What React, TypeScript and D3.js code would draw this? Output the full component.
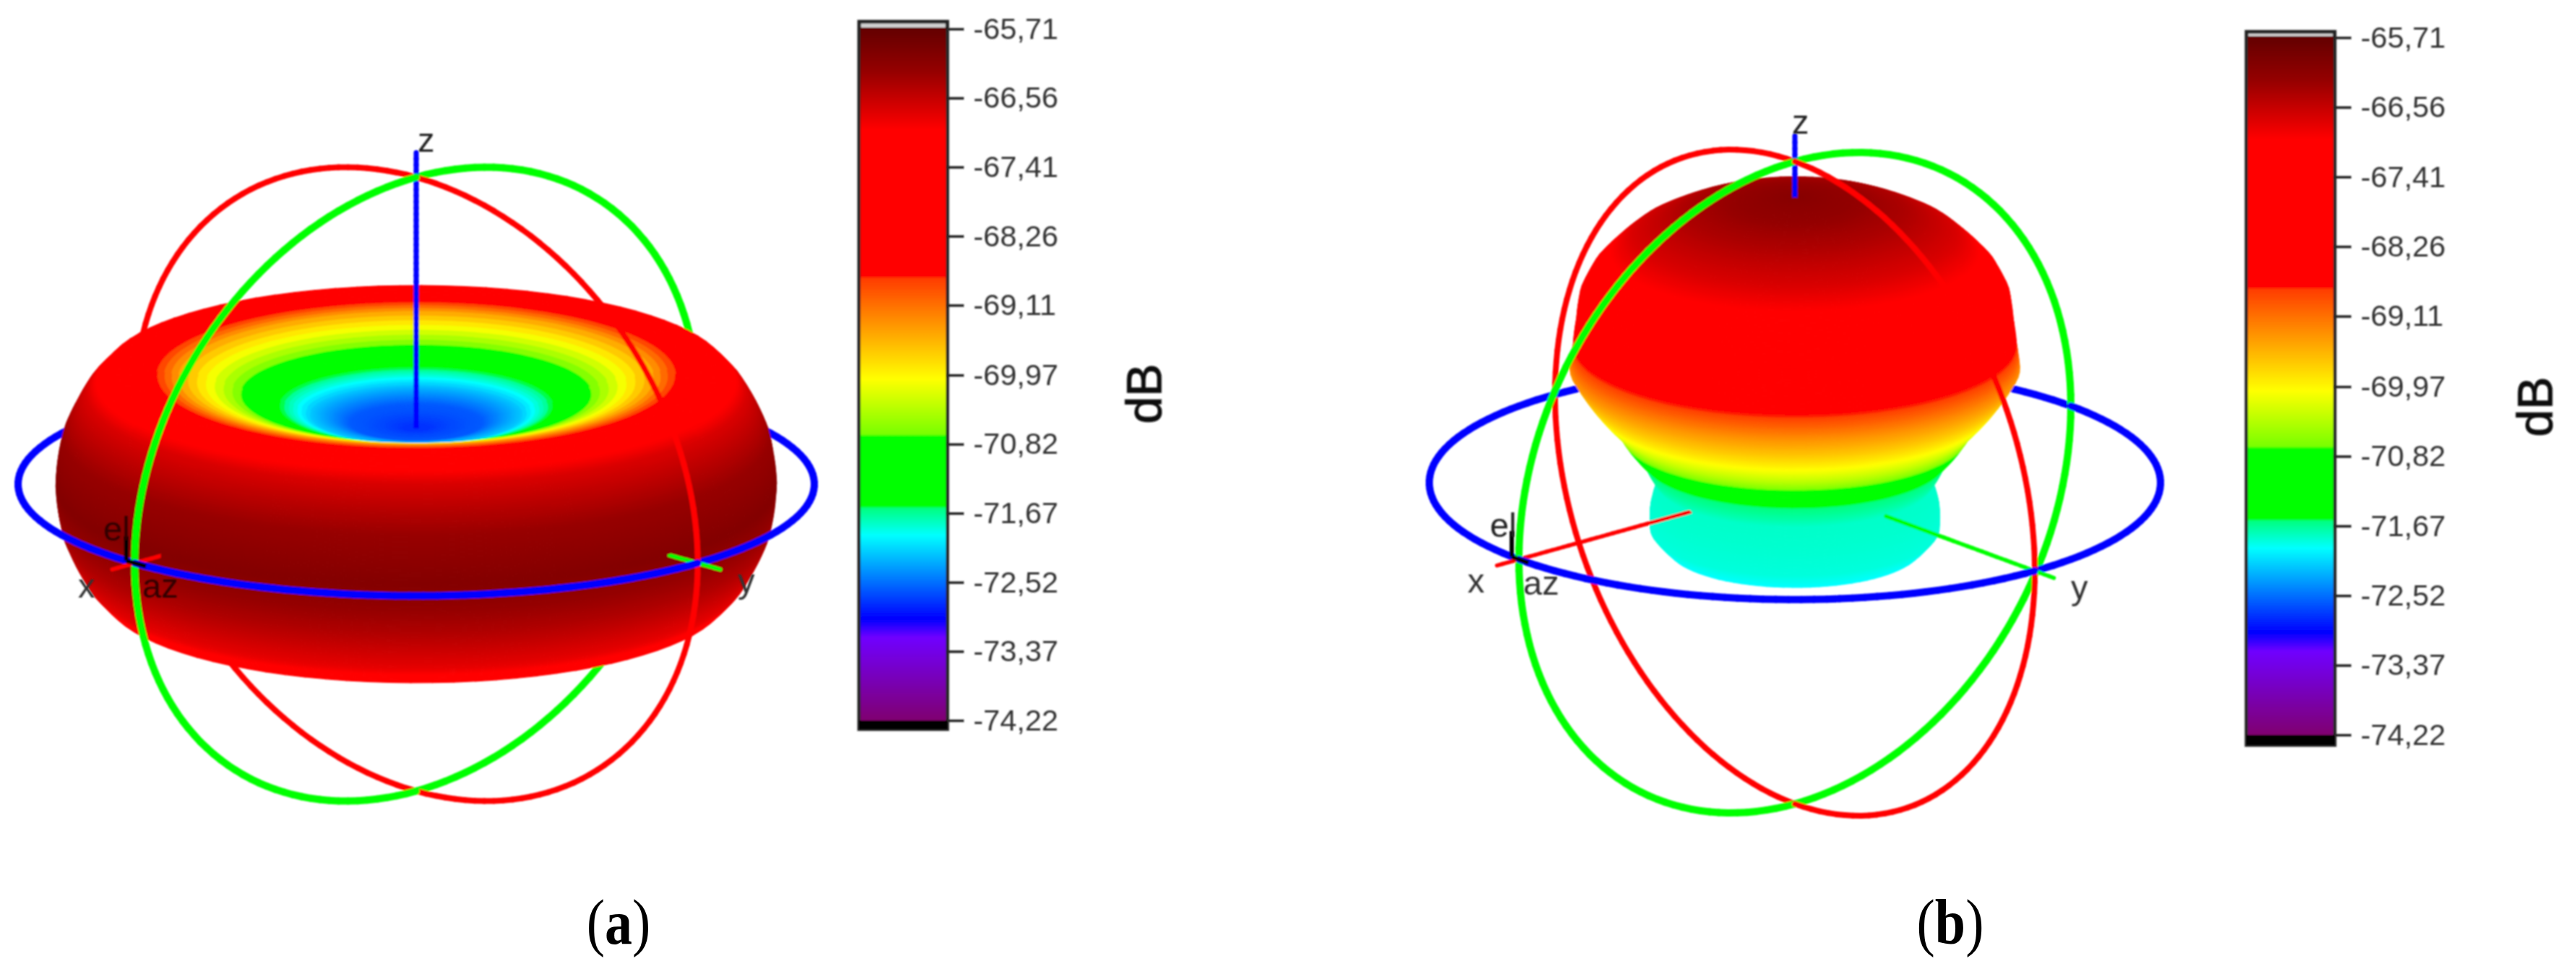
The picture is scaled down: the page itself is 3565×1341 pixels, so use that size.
import * as d3 from 'd3'
import { useRef, useEffect } from 'react'

const WIDTH = 3565
const HEIGHT = 1341
const SANS = '"Liberation Sans", Arial, sans-serif'
const SERIF = '"Liberation Serif", "Times New Roman", serif'

// colour bar: dB at the top / bottom and the printed labels
const tickValues = [-65.71, -66.56, -67.41, -68.26, -69.11, -69.97, -70.82, -71.67, -72.52, -73.37, -74.22]
const tickLabels = ['-65,71', '-66,56', '-67,41', '-68,26', '-69,11', '-69,97', '-70,82', '-71,67', '-72,52', '-73,37', '-74,22']

// colour map stops
const stopDb = [-65.71, -66.24, -66.95, -68.75, -68.78, -70.02, -70.7, -70.73, -71.58, -71.61, -71.94, -72.97, -73.2, -74.22]
const stopColor = ['#640000', '#960000', '#ff0000', '#ff0000', '#ff3c00', '#ffff00', '#78ff00', '#00ff00', '#00ff00', '#00ff80', '#00ffff', '#0000ff', '#7000ff', '#800070']

// pattern (a): polar angle from +z, radius relative to the reference sphere, level in dB
const thetaA = [0, 10, 20, 30, 40, 50, 55, 60, 65, 70, 80, 90, 100, 110, 115, 120, 125, 130, 140, 160, 180]
const radiusA = [0.18, 0.185, 0.2, 0.22, 0.26, 0.35, 0.46, 0.69, 0.86, 0.88, 0.9, 0.905, 0.9, 0.88, 0.86, 0.69, 0.46, 0.35, 0.26, 0.2, 0.18]
const levelA = [-72.75, -72.75, -72.7, -72.65, -72.6, -72.15, -71.3, -69.4, -67.2, -66.7, -66.25, -66.05, -66.4, -66.8, -67.2, -69.4, -71.3, -72.15, -72.6, -72.7, -72.75]

// pattern (b)
const thetaB = [0, 10, 20, 30, 40, 45, 50, 55, 60, 70, 80, 90, 100, 110, 120, 130, 150, 180]
const radiusB = [0.886, 0.885, 0.895, 0.89, 0.86, 0.83, 0.78, 0.74, 0.71, 0.52, 0.42, 0.375, 0.4, 0.42, 0.4, 0.33, 0.25, 0.22]
const levelB = [-66.1, -66.2, -66.4, -66.7, -67.2, -67.7, -68.1, -68.8, -69.35, -70.4, -71.6, -71.8, -71.82, -71.85, -71.95, -72, -72, -72]

const panels = [
  {
    id: 'a', theta: thetaA, radius: radiusA, level: levelA, az: 45,
    cx: 576, cy: 670, rx: 551, ry: 452,
    bar: { left: 1189, right: 1311, top: 30, bottom: 1009, first: 40, last: 997 },
    labels: [
      { text: 'z', x: 578, y: 210, color: '#222' },
      { text: 'x', x: 108, y: 827, color: '#333' },
      { text: 'y', x: 1021, y: 820, color: '#333' },
      { text: 'el', x: 143, y: 748, color: '#300000' },
      { text: 'az', x: 197, y: 827, color: '#300000' },
    ],
    dB: { x: 1607, y: 545 },
    caption: { x: 856, y: 1306 },
  },
  {
    id: 'b', theta: thetaB, radius: radiusB, level: levelB, az: 49,
    cx: 2484, cy: 668, rx: 506, ry: 473,
    bar: { left: 3109, right: 3231, top: 44, bottom: 1031, first: 52, last: 1017 },
    labels: [
      { text: 'z', x: 2480, y: 185, color: '#222' },
      { text: 'x', x: 2031, y: 820, color: '#333' },
      { text: 'y', x: 2866, y: 829, color: '#333' },
      { text: 'el', x: 2062, y: 743, color: '#222' },
      { text: 'az', x: 2108, y: 823, color: '#333' },
    ],
    dB: { x: 3532, y: 563 },
    caption: { x: 2699, y: 1306 },
  },
]

const ELEVATION = (20 * Math.PI) / 180
const THETA_STEP = 0.5
const AZ_STEP = 4

const drawPanel = (svg, panel) => {
  const { theta, radius, level, cx, cy, rx, ry, bar } = panel
  const az = (panel.az * Math.PI) / 180
  const xScale = d3.scaleLinear().domain([-1, 1]).range([cx - rx, cx + rx])
  const yScale = d3.scaleLinear().domain([-1, 1]).range([cy - ry, cy + ry])
  const radiusAt = d3.scaleLinear().domain(theta).range(radius)
  const levelAt = d3.scaleLinear().domain(theta).range(level)
  const colorOf = d3.scaleLinear().domain(stopDb).range(stopColor).clamp(true)

  // orthographic view; gives screen position and depth (bigger is nearer)
  const project = ([x, y, z]) => {
    const along = x * Math.cos(az) + y * Math.sin(az)
    return {
      sx: xScale(-x * Math.sin(az) + y * Math.cos(az)),
      sy: yScale(along * Math.sin(ELEVATION) - z * Math.cos(ELEVATION)),
      depth: along * Math.cos(ELEVATION) + z * Math.sin(ELEVATION),
    }
  }
  const surface = (t, a) => {
    const r = radiusAt(t)
    const th = (t * Math.PI) / 180
    const al = (a * Math.PI) / 180
    return project([r * Math.sin(th) * Math.cos(al), r * Math.sin(th) * Math.sin(al), r * Math.cos(th)])
  }

  const items = []

  // surface facets, back faces dropped
  const thetaSteps = d3.range(0, 180, THETA_STEP)
  const azSteps = d3.range(0, 360, AZ_STEP)
  thetaSteps.forEach(t => {
    azSteps.forEach(a => {
      const p = [
        surface(t, a),
        surface(t + THETA_STEP, a),
        surface(t + THETA_STEP, a + AZ_STEP),
        surface(t, a + AZ_STEP),
      ]
      const area = d3.polygonArea(p.map(q => [q.sx, q.sy]))
      if (area <= 0) return
      const color = colorOf(levelAt(t + THETA_STEP / 2))
      items.push({
        d: `M${p.map(q => `${q.sx.toFixed(1)},${q.sy.toFixed(1)}`).join('L')}Z`,
        fill: color,
        stroke: color,
        width: 1.3,
        depth: d3.mean(p, q => q.depth),
      })
    })
  })

  const addSegments = (points, stroke, width) => {
    d3.pairs(points).forEach(([p0, p1]) => {
      const a = project(p0)
      const b = project(p1)
      items.push({
        d: `M${a.sx.toFixed(1)},${a.sy.toFixed(1)}L${b.sx.toFixed(1)},${b.sy.toFixed(1)}`,
        fill: 'none',
        stroke,
        width,
        depth: (a.depth + b.depth) / 2,
      })
    })
  }

  // reference circles
  const ring = d3.range(0, 361, 2).map(d => (d * Math.PI) / 180)
  addSegments(ring.map(t => [0, Math.sin(t), Math.cos(t)]), '#ff0000', 8)
  addSegments(ring.map(t => [Math.sin(t), 0, Math.cos(t)]), '#00ff00', 10)
  addSegments(ring.map(t => [Math.cos(t), Math.sin(t), 0]), '#0000ff', 10)

  // axes
  const along = d3.range(0, 1.085, 0.02)
  addSegments(along.map(s => [s, 0, 0]), '#ff0000', 5.5)
  addSegments(along.map(s => [0, s, 0]), '#00ff00', 5.5)
  addSegments(along.map(s => [0, 0, s]), '#0000ff', 7)

  items.sort((p, q) => d3.ascending(p.depth, q.depth))

  const g = svg.append('g').attr('filter', 'url(#soft)')
  g.selectAll('path')
    .data(items)
    .join('path')
    .attr('d', d => d.d)
    .attr('fill', d => d.fill)
    .attr('stroke', d => d.stroke)
    .attr('stroke-width', d => d.width)
    .attr('stroke-linecap', d => (d.fill === 'none' ? 'round' : null))

  // az / el marker at the tip of x
  const tip = [1, -0.03, 0]
  const marker = g.append('g').attr('fill', 'none').attr('stroke', '#000').attr('stroke-width', 6)
  const pathOf = pts => d3.line()(pts.map(project).map(q => [q.sx, q.sy]))
  marker.append('path').attr('d', pathOf([tip, [1, -0.03, 0.08]]))
  marker.append('path').attr('d', pathOf([tip, [1, 0.04, 0]]))

  // 3D labels
  svg.append('g')
    .attr('filter', 'url(#softText)')
    .selectAll('text')
    .data(panel.labels)
    .join('text')
    .attr('x', d => d.x)
    .attr('y', d => d.y)
    .attr('fill', d => d.color)
    .attr('font-family', SANS)
    .attr('font-size', 47)
    .text(d => d.text)

  // colour bar
  const dbScale = d3.scaleLinear()
    .domain([tickValues[0], tickValues[tickValues.length - 1]])
    .range([bar.first, bar.last])
  const gradId = `bar-${panel.id}`
  const grad = svg.append('defs').append('linearGradient')
    .attr('id', gradId)
    .attr('gradientUnits', 'userSpaceOnUse')
    .attr('x1', 0).attr('x2', 0)
    .attr('y1', dbScale(stopDb[0])).attr('y2', dbScale(stopDb[stopDb.length - 1]))
  grad.selectAll('stop')
    .data(stopDb)
    .join('stop')
    .attr('offset', d => (dbScale(d) - dbScale(stopDb[0])) / (dbScale(stopDb[stopDb.length - 1]) - dbScale(stopDb[0])))
    .attr('stop-color', d => colorOf(d))

  const barG = svg.append('g').attr('filter', 'url(#soft)')
  barG.append('rect')
    .attr('x', bar.left).attr('y', bar.top)
    .attr('width', bar.right - bar.left).attr('height', bar.bottom - bar.top)
    .attr('fill', '#d0d0d0').attr('stroke', '#222').attr('stroke-width', 5)
  barG.append('rect')
    .attr('x', bar.left + 2).attr('y', dbScale(tickValues[0]) - 2)
    .attr('width', bar.right - bar.left - 4).attr('height', bar.last - bar.first + 2)
    .attr('fill', `url(#${gradId})`)
  barG.append('rect')
    .attr('x', bar.left).attr('y', bar.last)
    .attr('width', bar.right - bar.left).attr('height', bar.bottom - bar.last)
    .attr('fill', '#000')

  const axis = d3.axisRight(dbScale)
    .tickValues(tickValues)
    .tickFormat((d, i) => tickLabels[i])
    .tickSize(23)
    .tickPadding(13)
  const axisG = svg.append('g')
    .attr('transform', `translate(${bar.right},0)`)
    .attr('filter', 'url(#softText)')
    .call(axis)
  axisG.select('.domain').remove()
  axisG.selectAll('line').attr('stroke', '#222').attr('stroke-width', 3.5)
  axisG.selectAll('text')
    .attr('fill', '#333')
    .attr('font-family', SANS)
    .attr('font-size', 41.5)

  svg.append('text')
    .attr('transform', `translate(${panel.dB.x},${panel.dB.y}) rotate(-90)`)
    .attr('text-anchor', 'middle')
    .attr('fill', '#111')
    .attr('stroke', '#111')
    .attr('stroke-width', 1.2)
    .attr('font-family', SANS)
    .attr('font-size', 68)
    .attr('filter', 'url(#softText)')
    .text('dB')

  // caption, only the letter is bold; the original is a bit taller than wide
  const caption = svg.append('text')
    .attr('transform', `translate(${panel.caption.x},${panel.caption.y}) scale(1,1.18)`)
    .attr('text-anchor', 'middle')
    .attr('fill', '#000')
    .attr('font-family', SERIF)
    .attr('font-size', 76)
  caption.append('tspan').text('(')
  caption.append('tspan').attr('font-weight', 'bold').text(panel.id)
  caption.append('tspan').text(')')
}

const App = () => {
  const ref = useRef(null)

  useEffect(() => {
    const svg = d3.select(ref.current)
    svg.selectAll('*').remove() // clear

    const defs = svg.append('defs')
    defs.append('filter').attr('id', 'soft').append('feGaussianBlur').attr('stdDeviation', 0.9)
    defs.append('filter').attr('id', 'softText').append('feGaussianBlur').attr('stdDeviation', 0.8)

    panels.forEach(p => drawPanel(svg, p))
  }, [])

  return (
    <svg
      ref={ref}
      width={WIDTH}
      height={HEIGHT}
      style={{ position: 'absolute', left: 0, top: 0, background: '#fff' }}
    ></svg>
  )
}

export default App
